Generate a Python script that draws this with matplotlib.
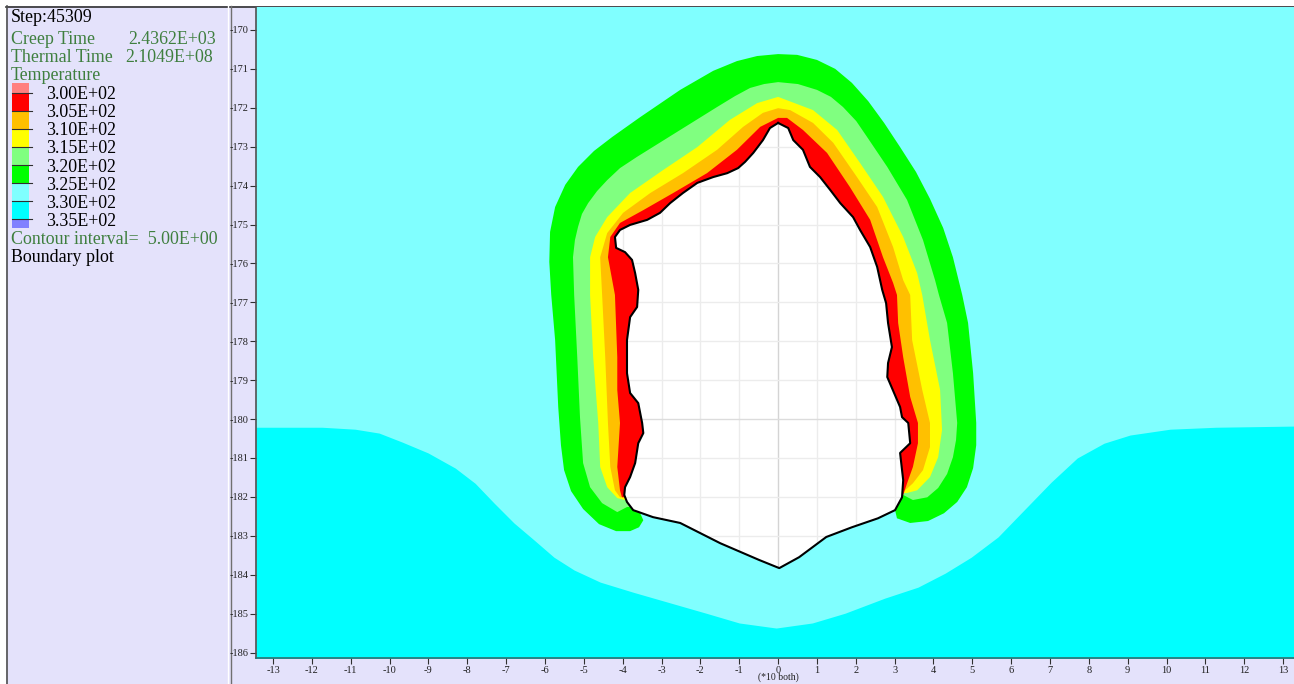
import matplotlib.pyplot as plt
from matplotlib.patches import Polygon, Rectangle

plt.rcParams['axes.unicode_minus'] = False

# legend info
step = 45309
creep_time = 2.4362e3
thermal_time = 2.1049e8
contour_interval = 5.0
levels = [300, 305, 310, 315, 320, 325, 330, 335]
level_colors = ['#ff8080', '#ff0000', '#ffc000', '#ffff00', '#80ff80',
                '#00ff00', '#80ffff', '#00ffff', '#8080ff']

xticks = list(range(-13, 14))
yticks = list(range(-186, -169))

# cavity boundary (units of 10)
cav_x = [0.00, 0.26, 0.39, 0.64, 0.82, 1.08, 1.34, 1.60, 1.93, 2.11, 2.37, 2.55, 2.68, 2.78,
         2.83, 2.93, 2.83, 2.81, 3.14, 3.19, 3.35, 3.40, 3.14, 3.22, 3.19, 3.01, 2.57, 1.90,
         1.24, 0.54, 0.03, -0.49, -1.49, -2.52, -3.22, -3.73, -3.89, -3.96, -3.94, -3.81,
         -3.68, -3.60, -3.47, -3.50, -3.60, -3.81, -3.89, -3.89, -3.81, -3.63, -3.60, -3.68,
         -3.76, -3.94, -4.17, -4.20, -4.07, -3.81, -3.37, -3.04, -2.78, -2.45, -2.08, -1.67,
         -1.31, -1.03, -0.85, -0.64, -0.39, -0.21]
cav_y = [-172.39, -172.52, -172.83, -173.08, -173.52, -173.78, -174.11, -174.45, -174.81,
         -175.14, -175.58, -176.09, -176.68, -177.02, -177.53, -178.15, -178.56, -178.92,
         -179.69, -179.95, -180.10, -180.62, -180.87, -181.57, -182.01, -182.34, -182.55,
         -182.78, -183.03, -183.55, -183.83, -183.62, -183.19, -182.67, -182.52, -182.34,
         -182.13, -181.95, -181.75, -181.49, -181.13, -180.62, -180.36, -180.10, -179.59,
         -179.33, -178.82, -177.97, -177.38, -177.12, -176.68, -176.25, -175.91, -175.71,
         -175.60, -175.32, -175.14, -175.01, -174.88, -174.70, -174.45, -174.19, -173.93,
         -173.78, -173.68, -173.55, -173.39, -173.16, -172.83, -172.52]

# outer edges of the temperature bands
green_x = [-3.55, -3.47, -3.58, -3.81, -4.17, -4.61, -5.02, -5.33, -5.51, -5.59, -5.66,
           -5.74, -5.84, -5.89, -5.87, -5.74, -5.48, -5.15, -4.74, -4.27, -3.55, -2.52,
           -1.67, -1.06, -0.54, 0.00, 0.49, 1.00, 1.47, 1.90, 2.32, 2.73, 3.14, 3.55, 3.91,
           4.25, 4.50, 4.74, 4.89, 5.02, 5.10, 5.10, 5.02, 4.86, 4.61, 4.27, 3.86, 3.40,
           3.06, 3.01]
green_y = [-182.42, -182.60, -182.78, -182.88, -182.88, -182.70, -182.31, -181.85, -181.31,
           -180.67, -179.69, -177.97, -176.81, -175.96, -175.19, -174.55, -173.98, -173.52,
           -173.11, -172.75, -172.24, -171.54, -171.05, -170.80, -170.67, -170.62, -170.64,
           -170.77, -171.00, -171.36, -171.83, -172.39, -173.01, -173.65, -174.34, -175.09,
           -175.84, -176.81, -177.53, -178.82, -180.10, -180.67, -181.26, -181.75, -182.13,
           -182.42, -182.62, -182.67, -182.55, -182.34]

lgreen_x = [-3.89, -4.14, -4.53, -4.84, -5.02, -5.10, -5.17, -5.25, -5.28, -5.23, -5.15,
            -5.05, -4.89, -4.66, -4.40, -4.07, -3.63, -2.52, -1.57, -1.11, -0.72, -0.36,
            0.00, 0.51, 1.00, 1.36, 1.67, 2.01, 2.29, 2.81, 3.32, 3.73, 4.04, 4.14, 4.35,
            4.50, 4.61, 4.58, 4.50, 4.35, 4.12, 3.84, 3.47, 3.22]
lgreen_y = [-182.26, -182.39, -182.16, -181.75, -181.13, -179.95, -178.41, -176.81, -175.84,
            -175.40, -175.06, -174.73, -174.45, -174.14, -173.86, -173.55, -173.26, -172.57,
            -171.98, -171.70, -171.49, -171.39, -171.34, -171.39, -171.54, -171.72, -171.98,
            -172.34, -172.75, -173.52, -174.37, -175.40, -176.43, -176.81, -177.53, -178.82,
            -180.10, -180.54, -180.98, -181.41, -181.77, -182.01, -182.08, -181.95]

yellow_x = [-3.94, -4.14, -4.40, -4.58, -4.63, -4.76, -4.84, -4.84, -4.71, -4.40, -3.81,
            -2.96, -2.08, -1.24, -0.54, 0.00, 0.90, 1.52, 2.11, 2.70, 3.22, 3.58, 3.71,
            3.91, 4.17, 4.22, 4.12, 3.91, 3.58, 3.32]
yellow_y = [-182.08, -182.03, -181.75, -181.23, -180.10, -178.41, -176.81, -175.84, -175.32,
            -174.81, -174.19, -173.60, -173.01, -172.31, -171.88, -171.72, -172.06, -172.57,
            -173.42, -174.29, -175.32, -176.25, -176.81, -177.97, -179.25, -180.28, -180.98,
            -181.49, -181.83, -181.90]

orange_x = [-4.07, -4.20, -4.32, -4.38, -4.45, -4.53, -4.58, -4.40, -3.99, -3.29, -2.45,
            -1.57, -0.90, -0.39, 0.00, 0.31, 0.90, 1.42, 2.03, 2.55, 2.96, 3.22, 3.40,
            3.45, 3.71, 3.91, 3.91, 3.73, 3.47, 3.27]
orange_y = [-182.01, -181.83, -181.23, -180.10, -178.41, -176.81, -175.84, -175.22, -174.70,
            -174.19, -173.68, -173.08, -172.49, -172.13, -172.01, -172.06, -172.39, -172.90,
            -173.78, -174.55, -175.58, -176.43, -176.81, -177.97, -179.25, -180.10, -180.72,
            -181.31, -181.65, -181.83]

red_x = [-4.02, -4.07, -4.14, -4.07, -4.14, -4.14, -4.20, -4.38, -4.32, -4.07, -3.47, -2.70,
         -1.83, -1.06, -0.46, 0.00, 0.23, 0.64, 1.26, 1.85, 2.37, 2.70, 2.96, 3.06, 3.09,
         3.22, 3.40, 3.60, 3.60, 3.47, 3.32, 3.22]
red_y = [-182.01, -181.83, -181.23, -180.10, -179.25, -178.41, -176.81, -175.84, -175.32,
         -174.96, -174.63, -174.19, -173.68, -173.08, -172.49, -172.26, -172.26, -172.57,
         -173.16, -174.04, -174.88, -175.84, -176.50, -176.81, -177.53, -178.41, -179.43,
         -180.10, -180.62, -181.23, -181.65, -181.95]

# lower (3.30E+02) zone boundary
cyan_x = [-13.44, -11.74, -10.89, -10.27, -9.68, -9.01, -8.31, -7.80, -7.31, -6.80, -6.28,
          -5.77, -5.25, -4.58, -3.73, -2.86, -1.85, -1.00, -0.05, 0.88, 1.72, 2.75, 3.60,
          4.30, 4.97, 5.66, 6.33, 7.03, 7.70, 8.39, 9.06, 10.09, 11.27, 13.28]
cyan_y = [-180.21, -180.21, -180.26, -180.36, -180.59, -180.87, -181.26, -181.65, -182.16,
          -182.67, -183.11, -183.55, -183.88, -184.19, -184.45, -184.70, -184.99, -185.24,
          -185.37, -185.24, -184.99, -184.60, -184.32, -183.96, -183.55, -183.03, -182.34,
          -181.62, -181.00, -180.62, -180.41, -180.26, -180.21, -180.18]

W, H = 1294, 684
fig = plt.figure(figsize=(W / 100, H / 100), dpi=100, facecolor='white')

# panel background in pixel units
bg = fig.add_axes([0, 0, 1, 1])
bg.set_xlim(0, W)
bg.set_ylim(H, 0)
bg.axis('off')
lav = '#e4e2fb'
bg.add_patch(Rectangle((6, 6), W - 6, H - 6, facecolor=lav, edgecolor='none'))
bg.plot([6, W], [6.5, 6.5], color='#303030', lw=1.2)
bg.plot([6.5, 6.5], [6, H], color='#505050', lw=1.2)
bg.plot([228, 228], [6, H], color='white', lw=1)
bg.plot([230.5, 230.5], [6, H], color='#707070', lw=1)

serif = 'Liberation Serif'
green_txt = '#3f7f3f'
fs = 12.9
bg.text(11, 18, f'Step:{step}', color='black', fontsize=fs, family=serif, va='center')
bg.text(11, 40, 'Creep Time', color=green_txt, fontsize=fs, family=serif, va='center')
bg.text(128, 40, f'{creep_time:.4E}', color=green_txt, fontsize=fs, family=serif, va='center')
bg.text(11, 58, 'Thermal Time', color=green_txt, fontsize=fs, family=serif, va='center')
bg.text(125, 58, f'{thermal_time:.4E}', color=green_txt, fontsize=fs, family=serif, va='center')
bg.text(11, 76, 'Temperature', color=green_txt, fontsize=fs, family=serif, va='center')

b0, db = 92.7, 18.08
edges = [83] + [b0 + db * i for i in range(len(levels))] + [228]
for i, c in enumerate(level_colors):
    bg.add_patch(Rectangle((12, edges[i]), 17, edges[i + 1] - edges[i],
                           facecolor=c, edgecolor='none'))
for i, lv in enumerate(levels):
    yb = b0 + db * i
    bg.plot([12, 32], [yb, yb], color='#303030', lw=0.8)
    bg.text(46, yb + 2, f'{lv:.2E}', color='black', fontsize=fs, family=serif, va='center')
bg.text(11, 239, f'Contour interval=  {contour_interval:.2E}', color=green_txt,
        fontsize=fs, family=serif, va='center')
bg.text(11, 257, 'Boundary plot', color='black', fontsize=fs, family=serif, va='center')
bg.text(778, 677, '(*10 both)', color='#202020', fontsize=7, family=serif,
        ha='center', va='center')

# main plot
ax = fig.add_axes([256 / W, 1 - 658 / H, (W - 256) / W, (658 - 7) / H])
ax.set_facecolor('#80ffff')
ax.set_xlim(-13.44, 13.28)
ax.set_ylim(-186.14, -169.41)

ax.fill_between(cyan_x, cyan_y, -190, color='#00ffff', lw=0, zorder=1)

bands = [(green_x, green_y, '#00ff00'), (lgreen_x, lgreen_y, '#80ff80'),
         (yellow_x, yellow_y, '#ffff00'), (orange_x, orange_y, '#ffc000'),
         (red_x, red_y, '#ff0000')]
for k, (bx, by, c) in enumerate(bands):
    ax.add_patch(Polygon(list(zip(bx, by)), closed=True, facecolor=c,
                         edgecolor='none', zorder=2 + k))

cav = Polygon(list(zip(cav_x, cav_y)), closed=True, facecolor='white',
              edgecolor='none', zorder=8)
ax.add_patch(cav)
for gx in range(-5, 5):
    ln, = ax.plot([gx, gx], [-186, -170], color='#d4d4d4' if gx == 0 else '#ececec',
                  lw=1, zorder=9)
    ln.set_clip_path(cav)
for gy in range(-185, -171):
    ln, = ax.plot([-6, 6], [gy, gy], color='#dcdcdc' if gy == -180 else '#ececec',
                  lw=1, zorder=9)
    ln.set_clip_path(cav)
ax.plot(cav_x + cav_x[:1], cav_y + cav_y[:1], color='black', lw=1.5, zorder=10)

ax.set_xticks(xticks)
ax.set_xticklabels([str(v) for v in xticks])
ax.set_yticks(yticks)
ax.set_yticklabels([str(v) for v in yticks])
ax.tick_params(direction='out', length=4, width=0.8, color='#303030',
               labelsize=7.5, pad=1.5, labelcolor='#202020')
for lab in ax.get_xticklabels() + ax.get_yticklabels():
    lab.set_family(serif)
ax.spines['top'].set_visible(False)
ax.spines['right'].set_visible(False)
ax.spines['left'].set_color('#505050')
ax.spines['bottom'].set_color('#2f6f6f')
ax.spines['left'].set_linewidth(1.2)
ax.spines['bottom'].set_linewidth(1.2)

fig.savefig('out.png', dpi=100)
